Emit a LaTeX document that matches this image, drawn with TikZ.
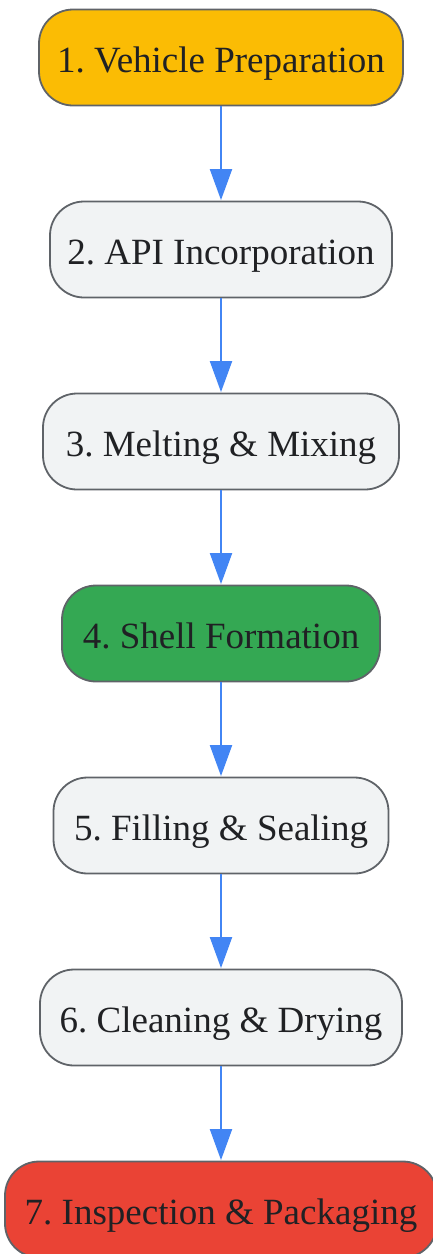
\documentclass[tikz,border=0pt]{standalone}
\usepackage{fontspec}
\setmainfont{Liberation Serif}
\usetikzlibrary{arrows.meta}
\definecolor{borderc}{HTML}{5F6368}
\definecolor{txtc}{HTML}{202124}
\definecolor{grayf}{HTML}{F1F3F4}
\definecolor{orangef}{HTML}{FBBC04}
\definecolor{greenf}{HTML}{34A853}
\definecolor{redf}{HTML}{EA4335}
\definecolor{arrowc}{HTML}{4285F4}
\tikzset{
  stepbox/.style={draw=borderc, line width=1.8pt, rounded corners=34pt, fill=grayf,
    text=txtc, minimum height=96pt, inner xsep=0pt, inner ysep=0pt,
    text height=34pt, text depth=5pt,
    font=\fontsize{37}{40}\selectfont\frenchspacing},
  flow/.style={draw=arrowc, line width=2pt, -{Triangle[width=22pt,length=31pt]}, shorten >=0.5pt}
}
\begin{document}
\begin{tikzpicture}[x=1pt,y=-1pt]
\useasboundingbox (0,0) rectangle (432,1254);
\node[stepbox, fill=orangef, minimum width=364pt] (n1) at (221,57.5) {1. Vehicle Preparation};
\node[stepbox, minimum width=342pt] (n2) at (221,249.5) {2. API Incorporation};
\node[stepbox, minimum width=356pt] (n3) at (221,441.5) {3. Melting \& Mixing};
\node[stepbox, fill=greenf, minimum width=318pt] (n4) at (221,633.5) {4. Shell Formation};
\node[stepbox, minimum width=335pt] (n5) at (221,825.5) {5. Filling \& Sealing};
\node[stepbox, minimum width=362pt] (n6) at (221,1017.5) {6. Cleaning \& Drying};
\node[stepbox, fill=redf, minimum width=432pt] (n7) at (221,1209.5) {7. Inspection \& Packaging};
\draw[flow] (n1) -- (n2);
\draw[flow] (n2) -- (n3);
\draw[flow] (n3) -- (n4);
\draw[flow] (n4) -- (n5);
\draw[flow] (n5) -- (n6);
\draw[flow] (n6) -- (n7);
\end{tikzpicture}
\end{document}
